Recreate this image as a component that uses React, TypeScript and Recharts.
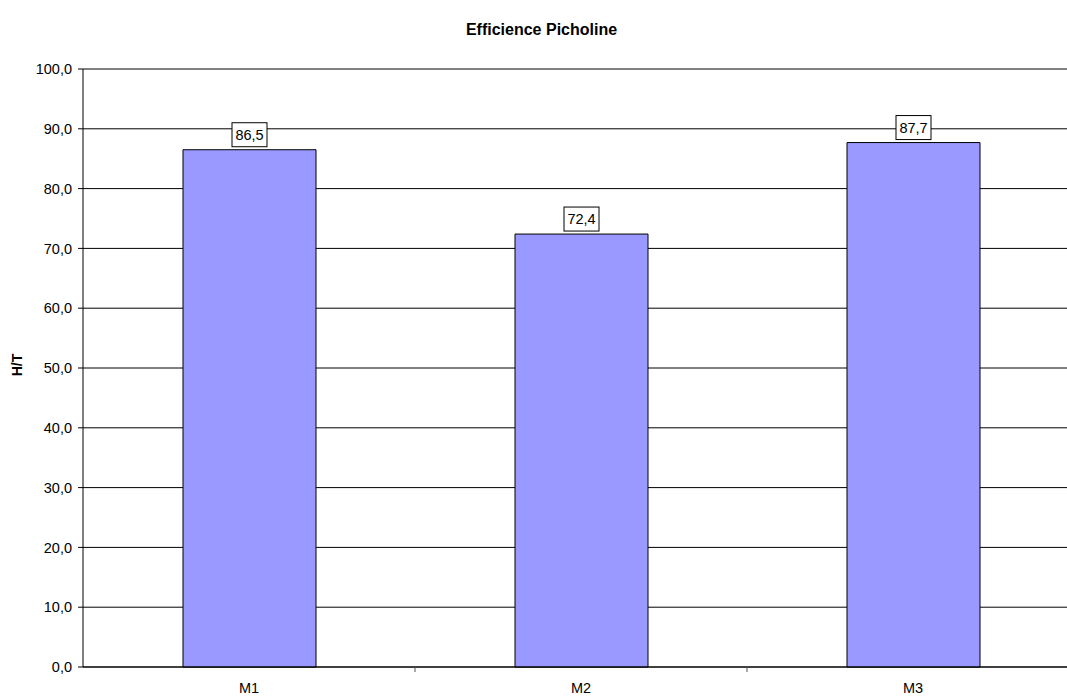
import React from 'react';
import {BarChart, Bar, XAxis, YAxis, CartesianGrid, LabelList} from 'recharts';

const machines = ['M1', 'M2', 'M3'];
const efficience = [86.5, 72.4, 87.7];
const yTicks = [0, 10, 20, 30, 40, 50, 60, 70, 80, 90, 100];

const data = machines.map((m, i) => ({name: m, value: efficience[i]}));

const FONT = "'Liberation Sans', Arial, sans-serif";
const fmt = (v: number) => v.toFixed(1).replace('.', ',');

const XTick = (props: any) => {
  const {x, y, payload} = props;
  const edge = x + (payload.offset || 0);
  return (
    <g>
      <line x1={edge} x2={edge} y1={y - 16} y2={y - 11} stroke='#555' />
      <text x={x} y={y} dy='0.71em' textAnchor='middle' fontSize={14.5} fontFamily={FONT} fill='#000'>
        {payload.value}
      </text>
    </g>
  );
};

const ValueLabel = (props: any) => {
  const {x, y, width, value} = props;
  const cx = x + width / 2;
  const w = 35;
  const h = 24;
  return (
    <g>
      <rect x={cx - w / 2} y={y - 3 - h} width={w} height={h} fill='#fff' stroke='#000' />
      <text x={cx} y={y - 3 - h / 2} dy='0.36em' textAnchor='middle' fontSize={14.5} fontFamily={FONT} fill='#000'>
        {fmt(value)}
      </text>
    </g>
  );
};

const YLabel = (props: any) => {
  const vb = props.viewBox;
  const cx = 17;
  const cy = vb.y + vb.height / 2 - 3;
  return (
    <text x={cx} y={cy} transform={`rotate(-90 ${cx} ${cy})`} textAnchor='middle' dy='0.36em'
      fontSize={14} fontWeight='bold' fontFamily={FONT} fill='#000'>
      H/T
    </text>
  );
};

export default function App() {
  return (
    <div style={{position: 'absolute', left: 0, top: 0, width: 1067, height: 696, overflow: 'hidden', background: '#fff'}}>
      <div style={{position: 'absolute', left: 0, width: 1083, top: 21, textAlign: 'center', fontFamily: FONT, fontWeight: 'bold', fontSize: 16, color: '#000'}}>
        Efficience Picholine
      </div>
      <BarChart width={1079} height={696} data={data} margin={{top: 69, right: 0, left: 0, bottom: 0}}>
        <CartesianGrid vertical={false} stroke='#000' strokeOpacity={1} />
        <XAxis dataKey='name' height={29} axisLine={{stroke: '#000'}} tickLine={false} tickSize={5} tickMargin={11} tick={<XTick />} interval={0} />
        <YAxis width={83} domain={[0, 100]} ticks={yTicks} tickFormatter={fmt} axisLine={{stroke: '#000'}}
          tickLine={{stroke: '#000'}} tickSize={5} tickMargin={6}
          tick={{fontSize: 14.5, fontFamily: FONT, fill: '#000'}} label={<YLabel />} interval={0} />
        <Bar dataKey='value' fill='#9999FF' stroke='#000' strokeWidth={1} barSize={133} isAnimationActive={false}>
          <LabelList dataKey='value' content={<ValueLabel />} />
        </Bar>
      </BarChart>
    </div>
  );
}
